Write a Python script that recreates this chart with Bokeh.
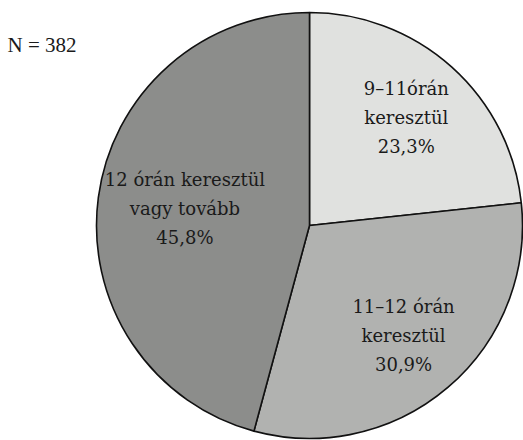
import math
from bokeh.plotting import figure
from bokeh.models import Range1d, ColumnDataSource
from bokeh.core.properties import value
from bokeh.embed import file_html
from bokeh.resources import INLINE

# ---- data ----
categories = ["9–11órán keresztül", "11–12 órán keresztül", "12 órán keresztül vagy tovább"]
percentages = [23.3, 30.9, 45.8]
label_lines = [
    ["9–11órán", "keresztül", "23,3%"],
    ["11–12 órán", "keresztül", "30,9%"],
    ["12 órán keresztül", "vagy tovább", "45,8%"],
]
sample_size = 382

# ---- style / layout ----
colors = ["#e0e1df", "#b1b2b0", "#8c8d8b"]
W, H = 523, 440
cx, cy, R = 309, 440 - 225, 213
label_radius = [0.68, 0.68, 0.59]
line_gap = 29
LABEL_FONT = "DejaVu Serif"
N_FONT = "serif"

p = figure(width=W, height=H, output_backend="svg", toolbar_location=None,
           x_range=Range1d(0, W), y_range=Range1d(0, H), min_border=0)
p.axis.visible = False
p.grid.visible = False
p.outline_line_color = None
p.background_fill_color = "white"

total = sum(percentages)
starts, ends, mids = [], [], []
cum = 0.0
for v in percentages:
    a0 = math.pi / 2 - cum / total * 2 * math.pi
    cum += v
    a1 = math.pi / 2 - cum / total * 2 * math.pi
    starts.append(a0)
    ends.append(a1)
    mids.append((a0 + a1) / 2)

src = ColumnDataSource(dict(x=[cx] * 3, y=[cy] * 3, start=starts, end=ends,
                            color=colors, cat=categories, pct=percentages))
p.wedge(x="x", y="y", radius=R, start_angle="start", end_angle="end",
        direction="clock", fill_color="color", line_color="#111111",
        line_width=1.6, source=src)

p.text(x=[7], y=[H - 44], text=[f"N = {sample_size}"], text_align="left",
       text_baseline="middle", text_font=value(N_FONT), text_font_size="21px",
       text_color="#1a1a1a")

tx, ty, tt = [], [], []
for i, lines in enumerate(label_lines):
    lx = cx + R * label_radius[i] * math.cos(mids[i])
    ly = cy + R * label_radius[i] * math.sin(mids[i])
    n = len(lines)
    for j, s in enumerate(lines):
        tx.append(lx)
        ty.append(ly + ((n - 1) / 2 - j) * line_gap)
        tt.append(s)

p.text(x=tx, y=ty, text=tt, text_align="center", text_baseline="middle",
       text_font=value(LABEL_FONT), text_font_size="18px", text_color="#1a1a1a")

open("out.html", "w").write(file_html(p, INLINE))
